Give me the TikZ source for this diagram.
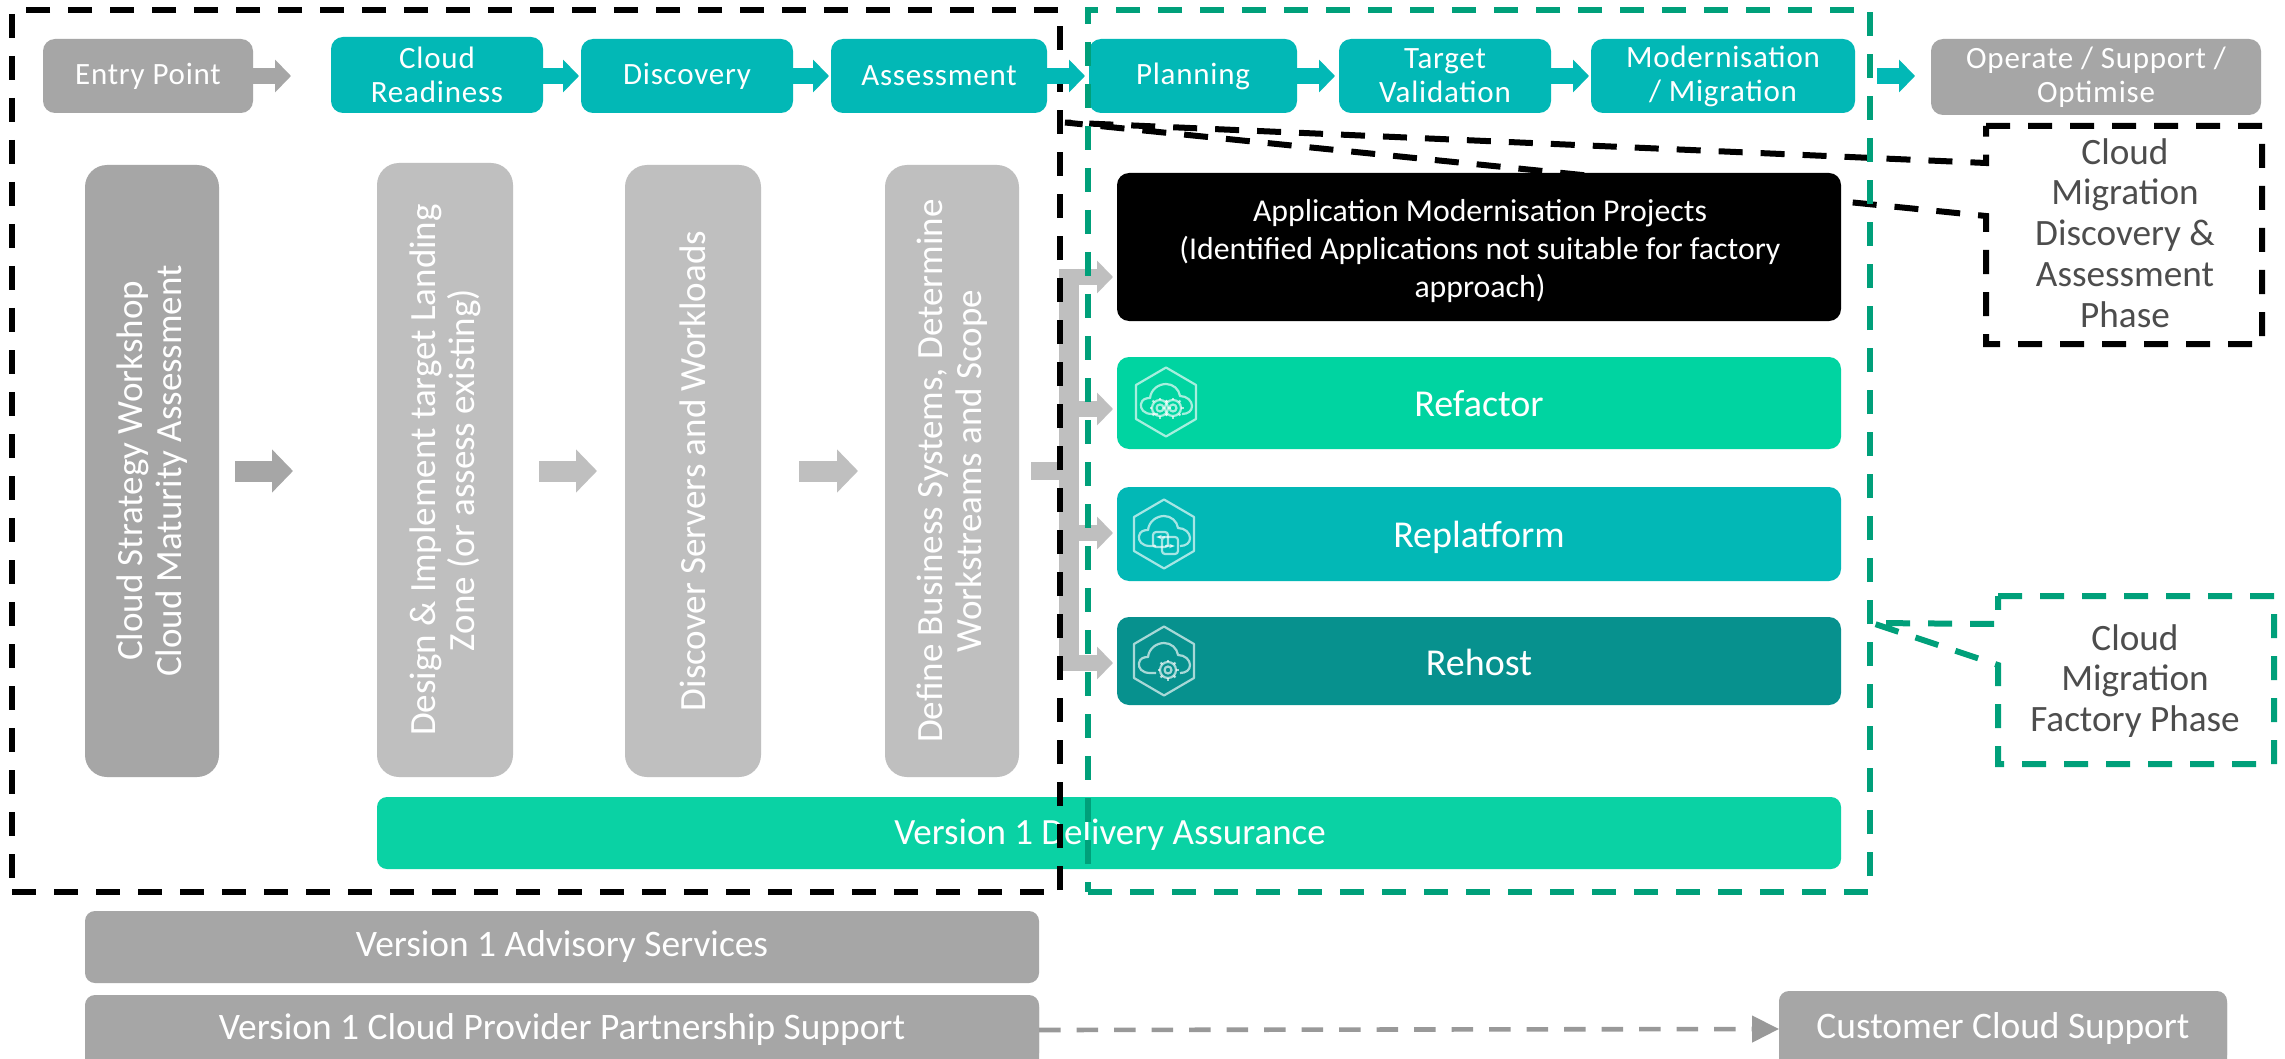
\documentclass[tikz,border=0pt]{standalone}
\usepackage{fontspec}
\setmainfont{Carlito}
\newfontfamily\rowfont[LetterSpace=2.5]{Carlito}
\usetikzlibrary{arrows.meta,calc}
\definecolor{gA}{HTML}{A6A6A6}
\definecolor{gB}{HTML}{BFBFBF}
\definecolor{teal1}{HTML}{02B8B6}
\definecolor{mint}{HTML}{00D4A1}
\definecolor{mintB}{HTML}{0AD2A4}
\definecolor{deep}{HTML}{07918E}
\definecolor{dgreen}{HTML}{00A07A}
\definecolor{ink}{HTML}{4D4D4D}
\definecolor{dashg}{HTML}{999999}
\newcommand{\bx}[7]{\node[#2,minimum width={(#5-#3)*0.5pt},minimum height={(#6-#4)*0.5pt}] (#1) at ({(#3+#5)/2},{(#4+#6)/2}) {#7};}
\tikzset{
  base/.style={inner sep=0pt,outer sep=0pt,align=center,text=white},
  rowbox/.style={base,rounded corners=6pt,font=\rowfont\fontsize{15.5}{17}\selectfont},
  rowteal/.style={rowbox,fill=teal1},
  rowgray/.style={rowbox,fill=gA},
  tallA/.style={base,rounded corners=11pt,fill=gA},
  tallB/.style={base,rounded corners=11pt,fill=gB},
  talltext/.style={base,rotate=90,font=\fontsize{18.5}{19.5}\selectfont},
  optbox/.style={base,rounded corners=6pt},
  opttext/.style={base,font=\fontsize{19}{20}\selectfont},
  bandbox/.style={base,rounded corners=5pt,fill=gA,font=\fontsize{18.7}{20}\selectfont},
  noteText/.style={base,text=ink,font=\fontsize{18.6}{20.4}\selectfont},
  rowarrow/.style={line width=8pt,draw=teal1,-{Triangle[length=8pt,width=16pt]}},
  rowarrowg/.style={rowarrow,draw=gA},
  blockA/.style={line width=10.5pt,draw=gA,-{Triangle[length=10.5pt,width=21pt]}},
  blockB/.style={blockA,draw=gB},
  busarrow/.style={line width=8pt,draw=gB,-{Triangle[length=8pt,width=16pt]}},
  dashblack/.style={draw=black,line width=3pt,dash pattern=on 12pt off 9pt},
  dashgreen/.style={draw=dgreen,line width=3pt,dash pattern=on 12pt off 9pt},
  iconline/.style={draw=white,draw opacity=.65,line width=1.1pt,line join=round},
  cloudicon/.pic={
    \draw[iconline] (0,-34.5)--(30,-17)--(30,17)--(0,34.5)--(-30,17)--(-30,-17)--cycle;
    \draw[iconline] (-8,12) -- (-14,12) .. controls (-22,12) and (-26,7) .. (-25,2) .. controls (-24,-3) and (-20,-4) .. (-16,-4) .. controls (-15,-13) and (-7,-18) .. (0,-18) .. controls (7,-18) and (13,-13) .. (14,-6) .. controls (21,-6) and (26,-1) .. (26,4) .. controls (26,9) and (22,12) .. (16,12);
  },
  gearicon/.pic={
    \draw[iconline] (0,0) circle (8);
    \draw[iconline] (0,0) circle (3.5);
    \foreach \a in {0,45,...,315}{\draw[iconline] (\a:8) -- (\a:10.5);}
  }
}
\begin{document}
\begin{tikzpicture}[x=0.5pt,y=-0.5pt]
\path[use as bounding box,fill=white] (0,0) rectangle (2285,1059);

% tall boxes
\bx{t1}{tallA}{85}{165}{219}{777}{}
\bx{t2}{tallB}{377}{163}{513}{777}{}
\bx{t3}{tallB}{625}{165}{761}{777}{}
\bx{t4}{tallB}{885}{165}{1019}{777}{}
\node[talltext] (t1t) at (t1.center) {Cloud Strategy Workshop\\Cloud Maturity Assessment};
\node[talltext] (t2t) at (t2.center) {Design \& Implement target Landing\\Zone (or assess existing)};
\node[talltext] (t3t) at (t3.center) {Discover Servers and Workloads};
\node[talltext] (t4t) at (t4.center) {Define Business Systems, Determine\\Workstreams and Scope};

% block arrows between tall boxes
\draw[blockA,yshift=1.5pt,shorten <=8pt,shorten >=42pt] (t1.east) -- (t1.east -| t2.west);
\draw[blockB,yshift=1.5pt,shorten <=13pt,shorten >=14pt] (t2.east |- t1.east) -- (t1.east -| t3.west);
\draw[blockB,yshift=1.5pt,shorten <=19pt,shorten >=13.5pt] (t3.east) -- (t3.east -| t4.west);

% right-hand options
\bx{del}{bandbox,fill=mintB}{377}{797}{1841}{869}{}
\node[base,font=\fontsize{18.5}{20}\selectfont] (delt) at (1110,835) {Version 1 Delivery Assurance};
\bx{ref}{optbox,fill=mint}{1117}{357}{1841}{449}{}
\bx{rep}{optbox,fill=teal1}{1117}{487}{1841}{581}{}
\bx{reh}{optbox,fill=deep}{1117}{617}{1841}{705}{}
\node[opttext] (reft) at (1479,404) {Refactor};
\node[opttext] (rept) at (1479,537) {Replatform};
\node[opttext] (reht) at (1479,662) {Rehost};

% bus
\coordinate (bustop) at (1069,269);
\coordinate (busbot) at (1069,671);
\coordinate (bus1) at (1069,277);
\coordinate (bus2) at (1069,409);
\coordinate (bus3) at (1069,533);
\coordinate (bus4) at (1069,663);
\draw[draw=gB,line width=10pt] (bustop) -- (busbot);
\draw[draw=gB,line width=9pt,shorten <=6pt,yshift=1.5pt] (t4.east) -- (t4.east -| bustop);

% bottom boxes
\bx{adv}{bandbox}{85}{911}{1039}{983}{Version 1 Advisory Services}
\fill[gA,rounded corners=5pt] (85,995) rectangle (1039,1075);
\bx{par}{bandbox}{85}{997}{1039}{1063}{Version 1 Cloud Provider Partnership Support}
\fill[gA,rounded corners=5pt] (1779,991) rectangle (2227,1075);
\bx{cus}{bandbox}{1779}{993}{2227}{1065}{Customer Cloud Support}
\draw[draw=dashg,line width=2.3pt,dash pattern=on 10.75pt off 8pt,-{Triangle[length=13.5pt,width=13pt]}] (par.east) -- (cus.west);

% black phase frame
\draw[dashblack] (12,892) -- (1060,892) -- (1060,10) -- (12,10) -- cycle;

% top row
\bx{entry}{rowgray}{43}{39}{253}{113}{Entry Point}
\bx{cloud}{rowteal}{331}{37}{543}{113}{Cloud\\Readiness}
\bx{disc}{rowteal}{581}{39}{793}{113}{Discovery}
\bx{asse}{rowteal}{831}{39}{1047}{113}{Assessment}
\bx{plan}{rowteal}{1089}{39}{1297}{113}{Planning}
\bx{targ}{rowteal}{1339}{39}{1551}{113}{Target\\Validation}
\bx{mode}{rowteal}{1591}{39}{1855}{113}{Modernisation\\/ Migration}
\bx{oper}{rowgray}{1931}{39}{2261}{115}{Operate / Support /\\Optimise}
\draw[rowarrowg,shorten >=20pt] (entry.east) -- (cloud.west |- entry.east);
\draw[rowarrow,shorten >=1pt] (cloud.east |- entry.east) -- (disc.west);
\draw[rowarrow,shorten >=1pt] (disc.east) -- (asse.west);
\draw[rowarrow,shorten >=2pt] (asse.east) -- (plan.west);
\draw[rowarrow,shorten >=2pt] (plan.east) -- (targ.west);
\draw[rowarrow,shorten >=1pt] (targ.east) -- (mode.west);
\draw[rowarrow,shorten <=11pt,shorten >=8pt] (mode.east) -- (oper.west |- mode.east);

% callout for discovery phase
\draw[dashblack] (1986,126) -- (2262,126) -- (2262,344) -- (1986,344) -- (1986,216) -- (1065,122.5) -- (1986,163) -- cycle;
\node[noteText] (note1) at (2125,233) {Cloud\\Migration\\Discovery \&\\Assessment\\Phase};

% application box, over the callout
\bx{app}{optbox,fill=black}{1117}{173}{1841}{321}{}
\node[base,font=\fontsize{15.9}{19}\selectfont] (appt) at (1480,251) {Application Modernisation Projects\\(Identified Applications not suitable for factory\\approach)};

% bus arrows
\draw[busarrow,shorten >=2pt] (bus1) -- (bus1 -| app.west);
\draw[busarrow,shorten >=2pt] (bus2) -- (bus2 -| ref.west);
\draw[busarrow,shorten >=2pt] (bus3) -- (bus3 -| rep.west);
\draw[busarrow,shorten >=2pt] (bus4) -- (bus4 -| reh.west);

% icons
\pic at (1166,402) {cloudicon};
\pic at (1160,408) {gearicon};
\pic at (1173,408) {gearicon};
\pic at (1164,534) {cloudicon};
\draw[iconline,rounded corners=1.5pt] (1153,532) rectangle (1168,547);
\draw[iconline,rounded corners=1.5pt] (1162,537) rectangle (1178,554);
\draw[iconline,-{Stealth[length=3pt]}] (1165,537) -- (1156,537);
\draw[iconline,-{Stealth[length=3pt]}] (1165,546) -- (1175,546);
\pic at (1164,661) {cloudicon};
\pic at (1168,670) {gearicon};

% green phase frame and callout
\draw[dashgreen] (1998,596) -- (2274,596) -- (2274,764) -- (1998,764) -- (1998,665) -- (1872,623) -- (1998,624) -- cycle;
\node[noteText] (note2) at (2135,681) {Cloud\\Migration\\Factory Phase};
\draw[dashgreen] (1088,892) -- (1870,892) -- (1870,10) -- (1088,10) -- cycle;
\end{tikzpicture}
\end{document}
